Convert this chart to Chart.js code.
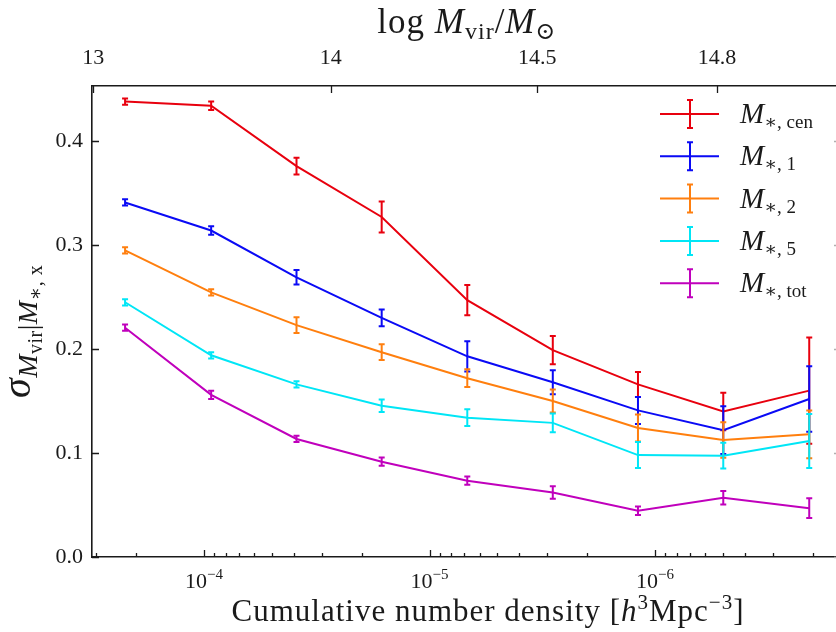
<!DOCTYPE html>
<html>
<head>
<meta charset="utf-8">
<script src="https://cdn.jsdelivr.net/npm/chart.js@4.4.1/dist/chart.umd.min.js"></script>
<style>
  html, body { margin: 0; padding: 0; background: #fff; overflow: hidden; }
</style>
</head>
<body>
<canvas id="sigmaChart" width="836" height="632"></canvas>
<script>
// cumulative number density of each bin [h^3 Mpc^-3]
const densities = [2.24e-4, 9.3e-5, 3.89e-5, 1.63e-5, 6.8e-6, 2.84e-6, 1.19e-6, 4.98e-7, 2.07e-7];

// scatter in Mvir at fixed stellar mass, one array per stellar mass definition
const sigmaCen = [0.438, 0.434, 0.376, 0.327, 0.247, 0.199, 0.166, 0.140, 0.160];
const sigmaOne = [0.341, 0.314, 0.269, 0.230, 0.193, 0.168, 0.141, 0.122, 0.152];
const sigmaTwo = [0.295, 0.2545, 0.223, 0.197, 0.172, 0.150, 0.124, 0.1125, 0.118];
const sigmaFive = [0.245, 0.194, 0.166, 0.1455, 0.134, 0.129, 0.098, 0.0975, 0.1115];
const sigmaTot = [0.2205, 0.156, 0.1135, 0.0917, 0.0734, 0.062, 0.0445, 0.057, 0.047];

const errCen = [0.003, 0.004, 0.008, 0.015, 0.0145, 0.0135, 0.012, 0.018, 0.051];
const errOne = [0.003, 0.004, 0.007, 0.008, 0.0145, 0.0115, 0.013, 0.023, 0.0315];
const errTwo = [0.003, 0.003, 0.0075, 0.0075, 0.0085, 0.011, 0.013, 0.017, 0.023];
const errFive = [0.003, 0.003, 0.003, 0.006, 0.008, 0.009, 0.0125, 0.0125, 0.026];
const errTot = [0.003, 0.004, 0.003, 0.004, 0.004, 0.006, 0.004, 0.0065, 0.0095];

const seriesSubs = ['∗, cen', '∗, 1', '∗, 2', '∗, 5', '∗, tot'];
const seriesColors = ['#e8000e', '#0a0af5', '#ff7f0e', '#00e6f6', '#c000bc'];
const seriesValues = [sigmaCen, sigmaOne, sigmaTwo, sigmaFive, sigmaTot];
const seriesErrors = [errCen, errOne, errTwo, errFive, errTot];

// axis ticks
const yTicks = [0, 0.1, 0.2, 0.3, 0.4];
const bottomTickValues = [1e-4, 1e-5, 1e-6];
const bottomTickExponents = ['−4', '−5', '−6'];
const topTickLabels = ['13', '14', '14.5', '14.8'];
const topTickDensities = [3.10e-4, 2.74e-5, 3.33e-6, 5.31e-7];

const xMin = 1.575e-7, xMax = 3.14e-4, yMax = 0.453;

const SERIF = '"Liberation Serif", "DejaVu Serif", serif';
const INK = '#1a1a1a';

// draws a row of text pieces (for sub/superscripts) on one baseline
function drawRuns(ctx, runs, x, y, align, spacing) {
    ctx.letterSpacing = (spacing || 0) + 'px';
    let total = 0;
    runs.forEach(r => {
        ctx.font = r.font;
        r.w = ctx.measureText(r.text).width;
        total += r.w;
    });
    let cx = align === 'center' ? x - total / 2 : x;
    ctx.textAlign = 'left';
    ctx.textBaseline = 'alphabetic';
    runs.forEach(r => {
        ctx.font = r.font;
        ctx.fillText(r.text, cx, y + (r.dy || 0));
        cx += r.w;
    });
    ctx.letterSpacing = '0px';
}

const errorBarPlugin = {
    id: 'errorBars',
    afterDatasetDraw(chart, args) {
        const ctx = chart.ctx;
        const ys = chart.scales.y;
        const errs = seriesErrors[args.index];
        const vals = seriesValues[args.index];
        ctx.save();
        ctx.strokeStyle = seriesColors[args.index];
        ctx.lineWidth = 2;
        args.meta.data.forEach((pt, j) => {
            const top = ys.getPixelForValue(vals[j] + errs[j]);
            const bot = ys.getPixelForValue(vals[j] - errs[j]);
            ctx.beginPath();
            ctx.moveTo(pt.x, top);
            ctx.lineTo(pt.x, bot);
            ctx.moveTo(pt.x - 3, top);
            ctx.lineTo(pt.x + 3, top);
            ctx.moveTo(pt.x - 3, bot);
            ctx.lineTo(pt.x + 3, bot);
            ctx.stroke();
        });
        ctx.restore();
    }
};

const decorPlugin = {
    id: 'decor',
    afterDraw(chart) {
        const ctx = chart.ctx;
        const area = chart.chartArea;
        const xs = chart.scales.x;
        const ys = chart.scales.y;
        ctx.save();

        // inward tick marks
        ctx.strokeStyle = INK;
        ctx.lineWidth = 1.3;
        ctx.beginPath();
        for (let e = -7; e <= -3; e++) {
            for (let k = 1; k <= 9; k++) {
                const v = k * Math.pow(10, e);
                if (v < xMin || v > xMax) continue;
                const px = Math.round(xs.getPixelForValue(v)) + 0.5;
                const len = k === 1 ? 7 : 4;
                ctx.moveTo(px, area.bottom);
                ctx.lineTo(px, area.bottom - len);
            }
        }
        topTickDensities.forEach(v => {
            const px = Math.round(xs.getPixelForValue(v)) + 0.5;
            ctx.moveTo(px, area.top);
            ctx.lineTo(px, area.top + 7);
        });
        yTicks.forEach(v => {
            const py = Math.round(ys.getPixelForValue(v)) + 0.5;
            ctx.moveTo(area.left, py);
            ctx.lineTo(area.left + 7, py);
        });
        ctx.stroke();

        // right spine sits just past the canvas edge, only tick tips show
        ctx.strokeStyle = '#b0b0b0';
        ctx.beginPath();
        yTicks.forEach(v => {
            const py = Math.round(ys.getPixelForValue(v)) + 0.5;
            ctx.moveTo(area.right, py);
            ctx.lineTo(area.right - 2, py);
        });
        ctx.stroke();

        ctx.fillStyle = INK;

        // bottom tick labels 10^-n
        bottomTickValues.forEach((v, i) => {
            const px = xs.getPixelForValue(v);
            drawRuns(ctx, [
                { text: '10', font: '22px ' + SERIF },
                { text: bottomTickExponents[i], font: '15px ' + SERIF, dy: -9 }
            ], px, 588, 'center');
        });

        // bottom axis title
        drawRuns(ctx, [
            { text: 'Cumulative number density [', font: '31px ' + SERIF },
            { text: 'h', font: 'italic 31px ' + SERIF },
            { text: '3', font: '21px ' + SERIF, dy: -12 },
            { text: 'Mpc', font: '31px ' + SERIF },
            { text: '−3', font: '21px ' + SERIF, dy: -12 },
            { text: ']', font: '31px ' + SERIF }
        ], 488, 621, 'center', 1);

        // top axis title
        drawRuns(ctx, [
            { text: 'log ', font: '35px ' + SERIF },
            { text: 'M', font: 'italic 35px ' + SERIF },
            { text: 'vir', font: '24px ' + SERIF, dy: 6 },
            { text: '/', font: '35px ' + SERIF },
            { text: 'M', font: 'italic 35px ' + SERIF },
            { text: '⊙', font: '24px ' + SERIF, dy: 6 }
        ], 467, 33, 'center', 1);

        // y axis title, rotated, reading upwards from y = 398
        ctx.save();
        ctx.translate(30, 398);
        ctx.rotate(-Math.PI / 2);
        drawRuns(ctx, [
            { text: 'σ', font: 'italic 40px ' + SERIF },
            { text: 'M', font: 'italic 28px ' + SERIF, dy: 7 },
            { text: 'vir', font: '20px ' + SERIF, dy: 12 },
            { text: '|', font: '28px ' + SERIF, dy: 7 },
            { text: 'M', font: 'italic 28px ' + SERIF, dy: 7 },
            { text: '∗, x', font: '20px ' + SERIF, dy: 12 }
        ], 0, 0, 'left', 0.5);
        ctx.restore();

        // legend
        seriesColors.forEach((c, i) => {
            const cy = 114 + i * 42.3;
            ctx.strokeStyle = c;
            ctx.lineWidth = 2;
            ctx.beginPath();
            ctx.moveTo(660, cy);
            ctx.lineTo(719, cy);
            ctx.moveTo(690, cy - 14);
            ctx.lineTo(690, cy + 14);
            ctx.moveTo(687, cy - 14);
            ctx.lineTo(693, cy - 14);
            ctx.moveTo(687, cy + 14);
            ctx.lineTo(693, cy + 14);
            ctx.stroke();
            ctx.fillStyle = INK;
            drawRuns(ctx, [
                { text: 'M', font: 'italic 29px ' + SERIF },
                { text: seriesSubs[i], font: '19px ' + SERIF, dy: 5 }
            ], 740, cy + 9, 'left');
        });

        ctx.restore();
    }
};

const ctx = document.getElementById('sigmaChart').getContext('2d');

new Chart(ctx, {
    type: 'line',
    data: {
        datasets: seriesValues.map((vals, i) => ({
            label: 'M*,' + seriesSubs[i],
            data: densities.map((d, j) => ({ x: d, y: vals[j] })),
            borderColor: seriesColors[i],
            backgroundColor: seriesColors[i],
            borderWidth: 2,
            pointRadius: 0,
            tension: 0,
            fill: false,
            order: 5 - i
        }))
    },
    options: {
        responsive: false,
        animation: false,
        layout: { padding: 0 },
        plugins: {
            legend: { display: false },
            tooltip: { enabled: false }
        },
        scales: {
            x: {
                type: 'logarithmic',
                position: 'bottom',
                reverse: true,
                min: xMin,
                max: xMax,
                ticks: { display: false },
                grid: { display: false, drawTicks: false },
                border: { display: true, color: INK, width: 1.6 },
                afterFit: s => { s.height = 75; }
            },
            x2: {
                type: 'logarithmic',
                position: 'top',
                reverse: true,
                min: xMin,
                max: xMax,
                afterBuildTicks: s => { s.ticks = topTickDensities.map(v => ({ value: v })); },
                ticks: {
                    autoSkip: false,
                    maxRotation: 0,
                    padding: 15,
                    color: INK,
                    font: { family: SERIF, size: 22 },
                    callback: (v, i) => topTickLabels[i]
                },
                grid: { display: false, drawTicks: false },
                border: { display: true, color: INK, width: 1.6 },
                afterFit: s => { s.height = 86; }
            },
            y: {
                type: 'linear',
                position: 'left',
                min: 0,
                max: yMax,
                afterBuildTicks: s => { s.ticks = yTicks.map(v => ({ value: v })); },
                ticks: {
                    padding: 9,
                    color: INK,
                    font: { family: SERIF, size: 22 },
                    callback: v => v.toFixed(1)
                },
                grid: { display: false, drawTicks: false },
                border: { display: true, color: INK, width: 1.6 },
                afterFit: s => { s.width = 92; }
            },
            y2: {
                type: 'linear',
                position: 'right',
                min: 0,
                max: yMax,
                ticks: { display: false },
                grid: { display: false, drawTicks: false },
                border: { display: false },
                afterFit: s => { s.width = 0; }
            }
        }
    },
    plugins: [errorBarPlugin, decorPlugin]
});
</script>
</body>
</html>
